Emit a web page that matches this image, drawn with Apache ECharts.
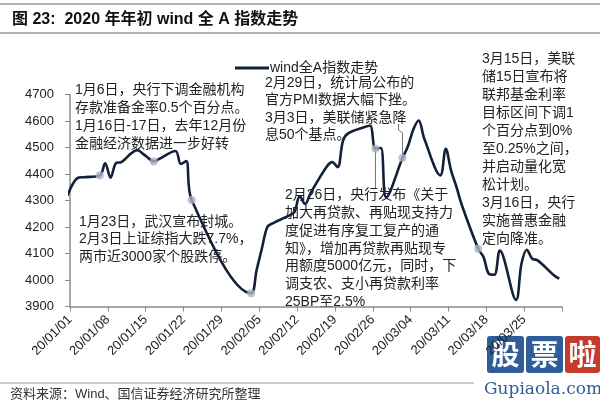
<!DOCTYPE html>
<html><head><meta charset="utf-8">
<script src="https://cdn.jsdelivr.net/npm/echarts@6/dist/echarts.min.js"></script>
<style>html,body{margin:0;padding:0;background:#fff}#c{width:600px;height:401px}</style>
</head><body><div id="c"></div>
<script>
// ---- data ----
const dates = ['2019-12-31','2020-01-02','2020-01-03','2020-01-06','2020-01-07','2020-01-08','2020-01-09','2020-01-10',
 '2020-01-13','2020-01-14','2020-01-15','2020-01-16','2020-01-17','2020-01-20','2020-01-21','2020-01-22','2020-01-23',
 '2020-02-03','2020-02-04','2020-02-05','2020-02-06','2020-02-07','2020-02-10','2020-02-11','2020-02-12','2020-02-13','2020-02-14',
 '2020-02-17','2020-02-18','2020-02-19','2020-02-20','2020-02-21','2020-02-24','2020-02-25','2020-02-26','2020-02-27','2020-02-28',
 '2020-03-02','2020-03-03','2020-03-04','2020-03-05','2020-03-06','2020-03-09','2020-03-10','2020-03-11','2020-03-12','2020-03-13',
 '2020-03-16','2020-03-17','2020-03-18','2020-03-19','2020-03-20','2020-03-23','2020-03-24','2020-03-25','2020-03-26','2020-03-27',
 '2020-03-30','2020-03-31'];
const values = [4318,4386,4388,4394,4440,4386,4441,4445,
 4490,4476,4460,4447,4457,4487,4438,4449,4302,
 3950,4036,4120,4200,4214,4243,4256,4316,4287,4328,
 4428,4445,4426,4526,4554,4577,4583,4495,4498,4312,
 4460,4505,4568,4602,4535,4395,4495,4412,4350,4281,
 4118,4086,4023,4020,4111,3925,4061,4114,4080,4074,
 4018,4005];
const eventDates = ['2020-01-06','2020-01-16','2020-01-23','2020-02-03','2020-02-26','2020-03-02','2020-03-16'];
const xTickLabels = ['20/01/01','20/01/08','20/01/15','20/01/22','20/01/29','20/02/05','20/02/12','20/02/19','20/02/26','20/03/04','20/03/11','20/03/18','20/03/25',''];
const seriesName = 'wind全A指数走势';
const titleText = '图 23:  2020 年年初 wind 全 A 指数走势';
const sourceText = '资料来源：Wind、国信证券经济研究所整理';
const notes = [
 {x:75, y:81, lh:18, lines:['1月6日，央行下调金融机构','存款准备金率0.5个百分点。','1月16日-17日，去年12月份','金融经济数据进一步好转']},
 {x:79, y:213, lh:17.5, lines:['1月23日，武汉宣布封城。','2月3日上证综指大跌7.7%，','两市近3000家个股跌停。']},
 {x:265, y:74.5, lh:17.3, lines:['2月29日，统计局公布的','官方PMI数据大幅下挫。','3月3日，美联储紧急降','息50个基点。']},
 {x:285, y:186, lh:17.9, lines:['2月26日，央行发布《关于','加大再贷款、再贴现支持力','度促进有序复工复产的通','知》，增加再贷款再贴现专','用额度5000亿元，同时，下','调支农、支小再贷款利率','25BP至2.5%']},
 {x:482, y:50, lh:18, lines:['3月15日，美联','储15日宣布将','联邦基金利率','目标区间下调1','个百分点到0%','至0.25%之间，','并启动量化宽','松计划。','3月16日，央行','实施普惠金融','定向降准。']}
];
// ---- helpers ----
const base = Date.UTC(2020,0,1);
function dayPos(s){const p=s.split('-').map(Number);return (Date.UTC(p[0],p[1]-1,p[2])-base)/86400000+0.5;}
const lineData = dates.map((d,i)=>[dayPos(d), values[i]]);
const eventData = eventDates.map(d=>[dayPos(d), values[dates.indexOf(d)]]);
const FONT = "'Liberation Sans','Noto Sans CJK SC',sans-serif";
const chart = echarts.init(document.getElementById('c'), null, {renderer:'canvas'});
const graphics = [
 {type:'line', shape:{x1:0,y1:4,x2:600,y2:4}, style:{stroke:'#9a9a9a',lineWidth:1.5}},
 {type:'line', shape:{x1:0,y1:33,x2:600,y2:33}, style:{stroke:'#9a9a9a',lineWidth:1.5}},
 {type:'text', x:12, y:20, style:{text:titleText, font:"bold 16px "+FONT, fill:'#111', textVerticalAlign:'middle'}},
 {type:'line', shape:{x1:0,y1:383,x2:474,y2:383}, style:{stroke:'#9a9a9a',lineWidth:1}},
 {type:'text', x:10, y:394, style:{text:sourceText, font:"13px "+FONT, fill:'#333', textVerticalAlign:'middle'}}
];
notes.forEach(n=>{
 graphics.push({type:'text', x:n.x, y:n.y, z:0, style:{text:n.lines.join('\n'), font:"14px "+FONT, fill:'#222', lineHeight:n.lh, textVerticalAlign:'top'}});
});
chart.setOption({
 animation:false,
 backgroundColor:'#fff',
 grid:{left:70, right:38, top:94.5, bottom:94.5, containLabel:false},
 legend:{data:[{name:seriesName, icon:'rect'}], left:230, top:56, itemWidth:34, itemHeight:3, itemGap:10,
   textStyle:{fontSize:14, color:'#222', fontFamily:FONT, padding:[0,0,0,-4]}},
 xAxis:{type:'value', min:0, max:91, interval:7,
   axisLine:{lineStyle:{color:'#8c8c8c', width:1.5}},
   axisTick:{show:true, inside:false, length:5, lineStyle:{color:'#8c8c8c'}},
   splitLine:{show:false},
   axisLabel:{rotate:45, margin:11, fontSize:13, color:'#222', fontFamily:FONT,
     formatter:v=>xTickLabels[Math.round(v/7)]||''}},
 yAxis:{type:'value', min:3900, max:4700, interval:100,
   axisLine:{show:true, lineStyle:{color:'#8c8c8c', width:1.5}},
   axisTick:{show:true, inside:false, length:5, lineStyle:{color:'#8c8c8c'}},
   splitLine:{show:false},
   axisLabel:{fontSize:13, color:'#222', margin:16, fontFamily:FONT, formatter:v=>String(v)}},
 graphic:graphics,
 series:[
  {name:seriesName, type:'line', data:lineData, smooth:0.35, showSymbol:false, z:3,
   lineStyle:{color:'#13203a', width:2.6}, itemStyle:{color:'#13203a'}},
  {name:'events', type:'scatter', data:eventData, symbolSize:8, z:4,
   itemStyle:{color:'#a9b3c4'}}
 ]
});
// leader lines tied to event points
const pFeb26 = chart.convertToPixel({gridIndex:0}, eventData[4]);
const pMar02 = chart.convertToPixel({gridIndex:0}, eventData[5]);
chart.setOption({graphic:graphics.concat([
 {type:'polyline', shape:{points:[[pFeb26[0],pFeb26[1]],[pFeb26[0],188]]}, style:{stroke:'#777',lineWidth:1,fill:null}},
 {type:'polyline', shape:{points:[[pMar02[0]-4,124],[pMar02[0]-4,130],[pMar02[0],133],[pMar02[0],pMar02[1]]]}, style:{stroke:'#777',lineWidth:1,fill:null}},
 {type:'rect', shape:{x:487,y:336,width:37,height:37,r:3}, style:{fill:'#2e5d9a'}},
 {type:'text', x:505.5, y:354.5, style:{text:'股', font:"bold 28px 'Noto Sans CJK SC'", fill:'#fff', align:'center', verticalAlign:'middle'}},
 {type:'rect', shape:{x:526,y:336,width:37,height:37,r:3}, style:{fill:'#2e5d9a'}},
 {type:'text', x:544.5, y:354.5, style:{text:'票', font:"bold 28px 'Noto Sans CJK SC'", fill:'#fff', align:'center', verticalAlign:'middle'}},
 {type:'rect', shape:{x:565,y:336,width:35,height:37,r:3}, style:{fill:'#c43b2c'}},
 {type:'text', x:582.5, y:354.5, style:{text:'啦', font:"bold 28px 'Noto Sans CJK SC'", fill:'#fff', align:'center', verticalAlign:'middle'}},
 {type:'text', x:543, y:390, style:{text:'Gupiaola.com', font:"17px 'DejaVu Serif'", fill:'#2e5d9a', align:'center', verticalAlign:'middle'}}
])});
</script></body></html>
